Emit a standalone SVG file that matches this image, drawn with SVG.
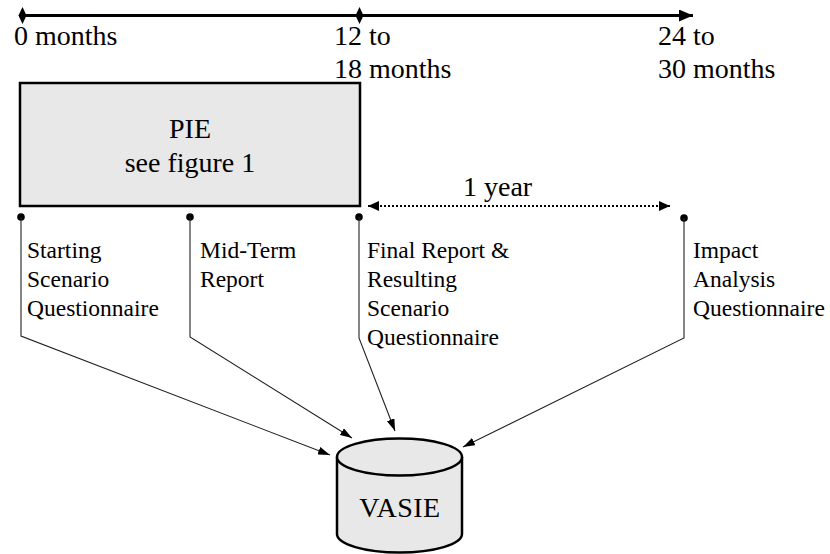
<svg xmlns="http://www.w3.org/2000/svg" width="830" height="554" viewBox="0 0 830 554">
  <defs>
    <marker id="head" viewBox="0 0 12 8" refX="12" refY="4" markerWidth="12" markerHeight="8" markerUnits="userSpaceOnUse" orient="auto">
      <path d="M0,0 L12,4 L0,8 Z" fill="#000"/>
    </marker>
    <marker id="headBig" viewBox="0 0 14 12" refX="14" refY="6" markerWidth="14" markerHeight="12" markerUnits="userSpaceOnUse" orient="auto">
      <path d="M0,0 L14,6 L0,12 Z" fill="#000"/>
    </marker>
    <marker id="headDot" viewBox="0 0 11 10" refX="11" refY="5" markerWidth="11" markerHeight="10" markerUnits="userSpaceOnUse" orient="auto-start-reverse">
      <path d="M0,0 L11,5 L0,10 Z" fill="#000"/>
    </marker>
  </defs>
  <style>
    text { font-family: "Liberation Serif", "Times New Roman", serif; fill: #000; }
    .big { font-size: 28px; }
    .lbl { font-size: 23.5px; }
    .box { fill: #e8e8e8; stroke: #000; stroke-width: 2.5; }
    .conn { fill: none; stroke: #222; stroke-width: 1.1; marker-end: url(#head); }
    .dot { fill: #000; }
  </style>

  <!-- timeline -->
  <g id="timeline">
    <line x1="22" y1="15.5" x2="693" y2="15.5" stroke="#000" stroke-width="3" marker-end="url(#headBig)"/>
    <path d="M22.5,7 L26.5,15.5 L22.5,24 L18.5,15.5 Z" fill="#000"/>
    <path d="M359.5,7 L363.5,15.5 L359.5,24 L355.5,15.5 Z" fill="#000"/>
    <text class="big" x="14" y="45">0 months</text>
    <text class="big" x="334" y="45">12 to</text>
    <text class="big" x="334" y="78">18 months</text>
    <text class="big" x="658" y="45">24 to</text>
    <text class="big" x="658" y="78">30 months</text>
  </g>

  <!-- PIE phase -->
  <g id="pie">
    <rect class="box" x="20" y="83" width="340" height="123"/>
    <text class="big" x="190" y="138" text-anchor="middle">PIE</text>
    <text class="big" x="190" y="172" text-anchor="middle">see figure 1</text>
  </g>

  <!-- one-year span -->
  <g id="span">
    <line x1="368" y1="206" x2="670" y2="206" stroke="#000" stroke-width="2" stroke-dasharray="2 2" marker-start="url(#headDot)" marker-end="url(#headDot)"/>
    <text class="big" x="463" y="196">1 year</text>
  </g>

  <!-- milestone labels -->
  <g id="starting">
    <circle class="dot" cx="21" cy="217" r="3.8"/>
    <text class="lbl" x="27" y="258">Starting</text>
    <text class="lbl" x="27" y="287">Scenario</text>
    <text class="lbl" x="27" y="316">Questionnaire</text>
  </g>
  <g id="midterm">
    <circle class="dot" cx="190" cy="217" r="3.8"/>
    <text class="lbl" x="200" y="258">Mid-Term</text>
    <text class="lbl" x="200" y="287">Report</text>
  </g>
  <g id="final">
    <circle class="dot" cx="359" cy="217" r="3.8"/>
    <text class="lbl" x="367" y="258">Final Report &amp;</text>
    <text class="lbl" x="367" y="287">Resulting</text>
    <text class="lbl" x="367" y="316">Scenario</text>
    <text class="lbl" x="367" y="345">Questionnaire</text>
  </g>
  <g id="impact">
    <circle class="dot" cx="684" cy="218" r="3.8"/>
    <text class="lbl" x="693" y="258">Impact</text>
    <text class="lbl" x="693" y="287">Analysis</text>
    <text class="lbl" x="693" y="316">Questionnaire</text>
  </g>

  <!-- database -->
  <g id="vasie">
    <path class="box" d="M337,457 L337,534 A62.5,18.5 0 0 0 462,534 L462,457"/>
    <ellipse class="box" cx="399.5" cy="457" rx="62.5" ry="18.5"/>
    <text class="big" x="400" y="517" text-anchor="middle" letter-spacing="0.5">VASIE</text>
  </g>

  <!-- connectors -->
  <g id="connectors">
    <polyline class="conn" points="21,217 21,336 330,455"/>
    <polyline class="conn" points="190,217 190,337 352,438"/>
    <polyline class="conn" points="359,217 359,338 395,431"/>
    <polyline class="conn" points="684,218 684,338 463,447"/>
  </g>
</svg>
